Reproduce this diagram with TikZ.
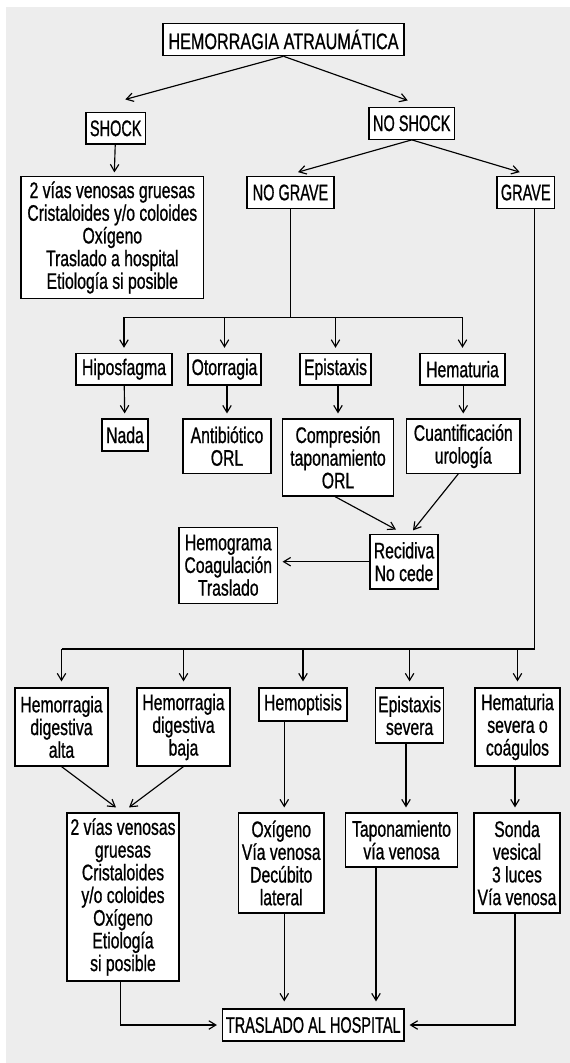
\documentclass[tikz,border=0pt]{standalone}
\usepackage{fontspec}
\setmainfont{Liberation Sans}[FakeStretch=0.70,FakeBold=0.8]
\newfontfamily\capfont{Liberation Sans}[FakeStretch=0.645,FakeBold=0.8]
\newfontfamily\titlefont{Liberation Sans}[FakeStretch=0.72,FakeBold=0.8]
\usetikzlibrary{arrows.meta}
\definecolor{panel}{RGB}{237,237,237}
\begin{document}
\begin{tikzpicture}[x=1pt,y=-1pt,
  box/.style={draw=black,line width=1.15pt,fill=white,inner sep=0pt,align=center,
    font=\fontsize{22.5}{22.7}\selectfont},
  capbox/.style={box,font=\fontsize{22.5}{22.7}\selectfont\capfont},
  titlebox/.style={box,font=\fontsize{22.5}{22.7}\selectfont\titlefont},
  link/.style={line width=1.15pt},
  arr/.style={link,-{Straight Barb[length=7pt,width=8.5pt]},shorten >=5pt}]
\useasboundingbox (0,0) rectangle (570,1063);
\fill[panel] (5.5,7.3) rectangle (570,1063);

% top of the tree
\node[titlebox,minimum width=241pt,minimum height=32.4pt] (hem) at (283.5,39.5) {HEMORRAGIA ATRAUMÁTICA};
\node[capbox,minimum width=59.5pt,minimum height=31.3pt] (shock) at (115.75,128.35) {SHOCK};
\node[capbox,minimum width=85.5pt,minimum height=32pt] (noshock) at (411.75,123.3) {NO SHOCK};
\node[box,minimum width=182.6pt,minimum height=121.6pt] (shocktx) at (112.3,237.5)
  {2 vías venosas gruesas\\Cristaloides y/o coloides\\Oxígeno\\Traslado a hospital\\Etiología si posible};
\node[capbox,minimum width=87pt,minimum height=31.6pt] (nograve) at (290.5,192.5) {NO GRAVE};
\node[capbox,minimum width=57.5pt,minimum height=31.6pt] (grave) at (525.75,192.5) {GRAVE};

% mild bleeding branch
\node[box,minimum width=96pt,minimum height=31.7pt] (hipo) at (124,369.2) {Hiposfagma};
\node[box,minimum width=73pt,minimum height=31.7pt] (otor) at (224.5,369.2) {Otorragia};
\node[box,minimum width=71pt,minimum height=31.7pt] (epist) at (335.5,369.2) {Epistaxis};
\node[box,minimum width=85pt,minimum height=31.7pt] (hemat) at (462.5,369.2) {Hematuria};
\node[box,minimum width=46pt,minimum height=32pt] (nada) at (125,435) {Nada};
\node[box,minimum width=88pt,minimum height=54.3pt] (antib) at (227,446.2) {Antibiótico\\ORL};
\node[box,minimum width=111pt,minimum height=77pt] (compr) at (338,457.5) {Compresión\\taponamiento\\ORL};
\node[box,minimum width=113.5pt,minimum height=54.3pt] (cuant) at (463.25,446.2) {Cuantificación\\urología};
\node[box,minimum width=68pt,minimum height=54.5pt] (recid) at (404,561.7) {Recidiva\\No cede};
\node[box,minimum width=98.5pt,minimum height=76pt] (hemog) at (228.25,565.3) {Hemograma\\Coagulación\\Traslado};

% severe bleeding branch
\node[box,minimum width=93pt,minimum height=78pt] (hda) at (61.5,727) {Hemorragia\\digestiva\\alta};
\node[box,minimum width=93pt,minimum height=78pt] (hdb) at (183.5,727) {Hemorragia\\digestiva\\baja};
\node[box,minimum width=88pt,minimum height=33pt] (hemopt) at (303,704.5) {Hemoptisis};
\node[box,minimum width=68pt,minimum height=55pt] (episev) at (409.6,715.5) {Epistaxis\\severa};
\node[box,minimum width=85pt,minimum height=78pt] (hemsev) at (517.5,727) {Hematuria\\severa o\\coágulos};
\node[box,minimum width=112pt,minimum height=168pt] (b2v) at (123,897)
  {2 vías venosas\\gruesas\\Cristaloides\\y/o coloides\\Oxígeno\\Etiología\\si posible};
\node[box,minimum width=85.5pt,minimum height=100pt] (oxig) at (281.25,863) {Oxígeno\\Vía venosa\\Decúbito\\lateral};
\node[box,minimum width=112pt,minimum height=54pt] (tapon) at (401.5,840) {Taponamiento\\vía venosa};
\node[box,minimum width=86pt,minimum height=100pt] (sonda) at (517,863) {Sonda\\vesical\\3 luces\\Vía venosa};
\node[capbox,minimum width=181.5pt,minimum height=32pt] (trasl) at (313.25,1025) {TRASLADO AL HOSPITAL};

% connectors, upper part
\draw[arr,shorten >=0pt] (hem.south) -- ([xshift=9.5pt,yshift=12.7pt]shock.north);
\draw[arr,shorten >=0pt] (hem.south) -- ([xshift=-4pt,yshift=6.3pt]noshock.north);
\draw[arr,shorten >=3.7pt] (shock) -- (shocktx);
\draw[arr,shorten >=0pt] (noshock.south) -- ([xshift=7.5pt,yshift=4pt]nograve.north);
\draw[arr,shorten >=0pt] (noshock.south) -- ([xshift=-6pt,yshift=4pt]grave.north);

% mild branch connectors
\coordinate (ngbar) at (290.5,317.3);
\draw[link] (nograve.south) -- (ngbar);
\draw[link] (hipo.north |- ngbar) -- (hemat.north |- ngbar);
\foreach \n in {hipo,otor,epist,hemat} \draw[arr] (\n.north |- ngbar) -- (\n.north);
\draw[arr] (hipo) -- (nada);
\draw[arr] (otor.south -| antib.north) -- (antib.north);
\draw[arr] (epist.south -| compr.north) -- (compr.north);
\draw[arr] (hemat.south -| cuant.north) -- (cuant.north);
\draw[arr,shorten >=0pt] ([xshift=-3pt]compr.south) -- ([xshift=-8pt,yshift=4.3pt]recid.north);
\draw[arr,shorten >=0pt] ([xshift=-5pt]cuant.south) -- ([xshift=9pt,yshift=3.5pt]recid.north);
\draw[arr,shorten >=4.5pt] (recid.west) -- (recid.west -| hemog.east);

% severe branch connectors
\coordinate (gvbar) at (534.5,649);
\draw[link] (grave.south -| gvbar) -- (gvbar);
\draw[link] (hda.north |- gvbar) -- (gvbar);
\foreach \n in {hda,hdb,hemopt,episev,hemsev} \draw[arr,shorten >=6pt] (\n.north |- gvbar) -- (\n.north);
\draw[arr,shorten >=0pt] (hda.south) -- ([xshift=-7pt,yshift=5pt]b2v.north);
\draw[arr,shorten >=0pt] (hdb.south) -- ([xshift=6pt,yshift=5pt]b2v.north);
\draw[arr] ([xshift=3pt]oxig.north |- hemopt.south) -- ([xshift=3pt]oxig.north);
\draw[arr] ([xshift=4.5pt]tapon.north |- episev.south) -- ([xshift=4.5pt]tapon.north);
\draw[arr] ([xshift=-2pt]sonda.north |- hemsev.south) -- ([xshift=-2pt]sonda.north);

% everything ends in transfer
\draw[arr,shorten >=5pt] ([xshift=-2.3pt]b2v.south) |- (trasl.west);
\draw[arr,shorten >=7pt] ([xshift=3pt]oxig.south) -- ([xshift=3pt]oxig.south |- trasl.north);
\draw[arr,shorten >=7pt] ([xshift=-25.5pt]tapon.south) -- ([xshift=-25.5pt]tapon.south |- trasl.north);
\draw[arr,shorten >=5pt] ([xshift=-2pt]sonda.south) |- (trasl.east);
\end{tikzpicture}
\end{document}
